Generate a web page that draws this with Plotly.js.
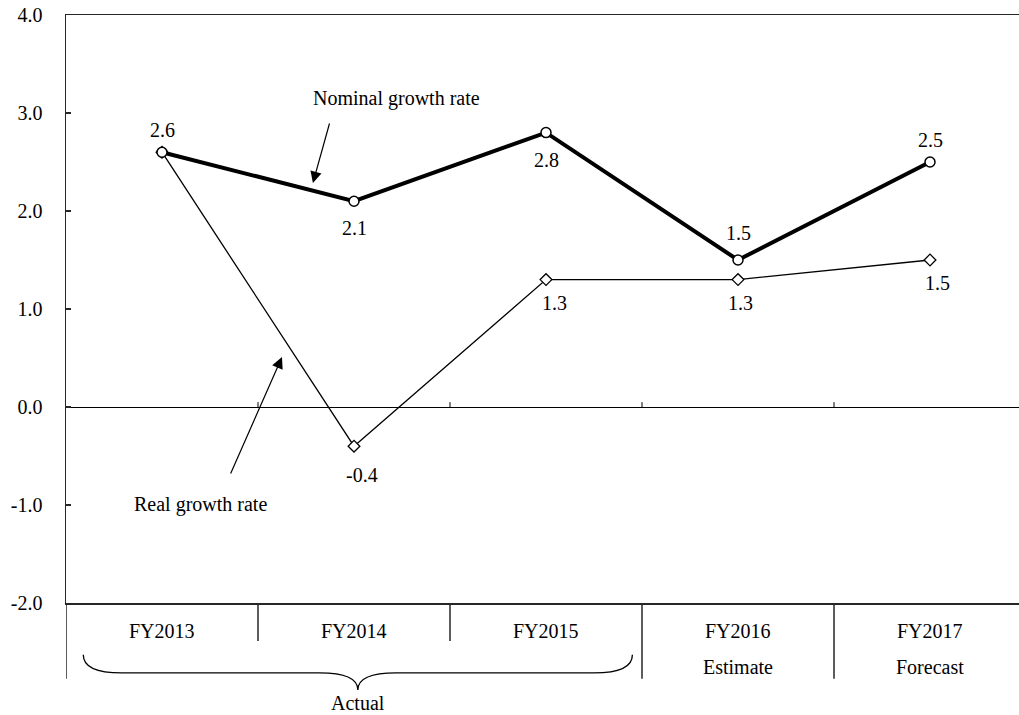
<!DOCTYPE html>
<html>
<head>
<meta charset="utf-8">
<script src="https://cdn.plot.ly/plotly-3.0.1.min.js"></script>
<style>html,body{margin:0;padding:0;background:#fff;}#chart{width:1019px;height:715px;}</style>
</head>
<body>
<div id="chart"></div>
<script>
// ---- data ----
const categories = ['FY2013', 'FY2014', 'FY2015', 'FY2016', 'FY2017'];
const subLabels = ['', '', '', 'Estimate', 'Forecast'];
const nominalGrowth = [2.6, 2.1, 2.8, 1.5, 2.5];
const realGrowth = [2.6, -0.4, 1.3, 1.3, 1.5];
const yTickValues = [-2, -1, 0, 1, 2, 3, 4];
const nominalName = 'Nominal growth rate';
const realName = 'Real growth rate';
const actualLabel = 'Actual';

// ---- styling helpers ----
const FONT = 'Liberation Serif, Times New Roman, serif';
const FS = 20;
const xIdx = categories.map((c, i) => i);
const nomShift = [-22, 27, 27, -27, -22];
const realShift = [null, 29, 23, 23, 23];
const realXShift = [0, 8, 8, 2, 7];
const lineCol = '#262626';

const traces = [
  {
    x: xIdx, y: realGrowth, type: 'scatter', mode: 'lines+markers', name: realName,
    line: {color: '#000', width: 1.3},
    marker: {symbol: 'diamond', size: 9, color: '#fff', line: {color: '#000', width: 1.3}},
    hoverinfo: 'skip'
  },
  {
    x: xIdx, y: nominalGrowth, type: 'scatter', mode: 'lines+markers', name: nominalName,
    line: {color: '#000', width: 4},
    marker: {symbol: 'circle', size: 10, color: '#fff', line: {color: '#000', width: 1.5}},
    hoverinfo: 'skip'
  }
];

const annotations = [];
nominalGrowth.forEach((v, i) => {
  annotations.push({x: i, y: v, xref: 'x', yref: 'y', text: v.toFixed(1), showarrow: false,
    yshift: -nomShift[i], font: {family: FONT, size: FS, color: '#000'}});
});
realGrowth.forEach((v, i) => {
  if (realShift[i] === null) return;
  annotations.push({x: i, y: v, xref: 'x', yref: 'y', text: v.toFixed(1), showarrow: false,
    yshift: -realShift[i], xshift: realXShift[i], font: {family: FONT, size: FS, color: '#000'}});
});
categories.forEach((c, i) => {
  annotations.push({x: i, y: -0.0476, xref: 'x', yref: 'paper', text: c, showarrow: false,
    yanchor: 'middle', font: {family: FONT, size: FS, color: '#000'}});
  if (subLabels[i]) {
    annotations.push({x: i, y: -0.1088, xref: 'x', yref: 'paper', text: subLabels[i], showarrow: false,
      yanchor: 'middle', font: {family: FONT, size: FS, color: '#000'}});
  }
});
annotations.push({x: 1.02, y: -0.170, xref: 'x', yref: 'paper', text: actualLabel, showarrow: false,
  yanchor: 'middle', font: {family: FONT, size: FS, color: '#000'}});
// series name labels
annotations.push({x: 1.219, y: 3.153, xref: 'x', yref: 'y', text: nominalName, showarrow: false,
  font: {family: FONT, size: FS, color: '#000'}});
annotations.push({x: 0.198, y: -0.99, xref: 'x', yref: 'y', text: realName, showarrow: false,
  font: {family: FONT, size: FS, color: '#000'}});
// arrows
annotations.push({x: 0.786, y: 2.286, xref: 'x', yref: 'y', ax: 17, ay: -61, text: '', showarrow: true,
  arrowhead: 2, arrowsize: 1.9, arrowwidth: 1.2, arrowcolor: '#000', standoff: 0, startstandoff: 0});
annotations.push({x: 0.625, y: 0.51, xref: 'x', yref: 'y', ax: -52, ay: 118, text: '', showarrow: true,
  arrowhead: 2, arrowsize: 1.9, arrowwidth: 1.2, arrowcolor: '#000', standoff: 0, startstandoff: 0});

const shapes = [];
// category boundary lines below the plot
[0.5, 1.5].forEach(b => shapes.push({type: 'line', xref: 'x', yref: 'paper', x0: b, x1: b, y0: 0, y1: -0.0646,
  line: {color: lineCol, width: 1.5}}));
[2.5, 3.5].forEach(b => shapes.push({type: 'line', xref: 'x', yref: 'paper', x0: b, x1: b, y0: 0, y1: -0.129,
  line: {color: lineCol, width: 1.5}}));
shapes.push({type: 'line', xref: 'x', yref: 'paper', x0: -0.5, x1: -0.5, y0: 0, y1: -0.129,
  line: {color: lineCol, width: 1.5}});
// small ticks on zero line
[0.5, 1.5, 2.5, 3.5].forEach(b => shapes.push({type: 'line', xref: 'x', yref: 'y', x0: b, x1: b, y0: 0, y1: 0.05,
  line: {color: '#000', width: 1}}));
// brace under actual years
const bx0 = -0.41, bx1 = 2.45, bc = (bx0 + bx1) / 2, yTop = -0.088, yMid = -0.119, yTip = -0.148, r = 0.2;
shapes.push({type: 'path', xref: 'x', yref: 'paper',
  path: `M ${bx0},${yTop} Q ${bx0},${yMid} ${bx0 + r},${yMid} L ${bc - r},${yMid} Q ${bc},${yMid} ${bc},${yTip} ` +
        `Q ${bc},${yMid} ${bc + r},${yMid} L ${bx1 - r},${yMid} Q ${bx1},${yMid} ${bx1},${yTop}`,
  line: {color: '#000', width: 1.3}});

const layout = {
  width: 1019, height: 715,
  margin: {l: 66, r: 0, t: 15, b: 112, pad: 0},
  paper_bgcolor: '#fff', plot_bgcolor: '#fff',
  showlegend: false,
  font: {family: FONT, size: FS, color: '#000'},
  xaxis: {
    type: 'linear', range: [-0.5, 4.4635], showgrid: false, zeroline: false,
    showline: true, mirror: true, linecolor: lineCol, linewidth: 1.5,
    showticklabels: false, ticks: '', fixedrange: true
  },
  yaxis: {
    range: [-2, 4], tickvals: yTickValues, ticktext: yTickValues.map(v => v.toFixed(1)),
    showgrid: false, zeroline: true, zerolinecolor: '#000', zerolinewidth: 1,
    showline: true, linecolor: lineCol, linewidth: 1.5,
    ticks: 'inside', ticklen: 5, tickcolor: lineCol, tickwidth: 1.2,
    ticklabelstandoff: 18, tickfont: {family: FONT, size: FS, color: '#000'}, fixedrange: true
  },
  annotations: annotations,
  shapes: shapes
};

Plotly.newPlot('chart', traces, layout, {displayModeBar: false, staticPlot: true});
</script>
</body>
</html>
